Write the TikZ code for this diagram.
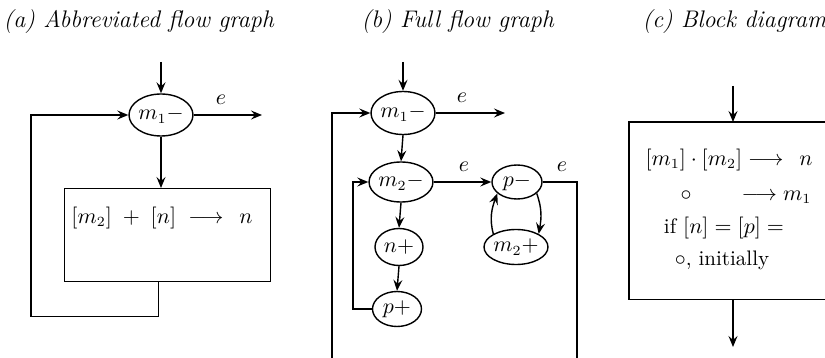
\documentclass[tikz,border=0pt]{standalone}
\usetikzlibrary{arrows.meta,shapes.geometric,calc}
\begin{document}
\begin{tikzpicture}[x=0.5pt,y=-0.5pt, line width=0.7pt,
  arr/.style={-{Stealth[length=5.5pt,width=4.5pt,inset=2pt]}},
  ell/.style={draw, ellipse, inner sep=0pt, font=\fontsize{10.5}{12}\selectfont},
  ttl/.style={anchor=west, font=\fontsize{12}{14}\selectfont\itshape, inner sep=0pt},
  lbl/.style={font=\fontsize{10.5}{12}\selectfont, inner sep=0pt},
  txt/.style={font=\fontsize{10.5}{12}\selectfont, inner sep=0pt}]
\useasboundingbox (0,0) rectangle (825,358);
% ---------- (a)
\node[ttl] (ta) at (3,22) {(a) Abbreviated flow graph};
\node[ell, minimum width=28pt, minimum height=21pt] (am1) at (161,115) {$m_1-$};
\coordinate (ain) at (161,62);
\coordinate (aout) at (262,115);
\draw[arr] (ain) -- (am1);
\draw[arr] (am1) -- (aout);
\node[lbl] (ae) at (221,100) {$e$};
\node[draw, minimum width=103pt, minimum height=46.5pt, inner sep=0pt, anchor=north west] (abox) at (64,188) {};
\node[txt] (atxt) at (162,218) {$[m_2]\;+\;[n]\;\longrightarrow\;\, n$};
\draw[arr] (am1) -- (am1 |- abox.north);
\draw[arr] ([xshift=-4.5pt]abox.south) -- ++(0,34) -| (31,115) -- (am1.west);
% ---------- (b)
\node[ttl] (tb) at (361,22) {(b) Full flow graph};
\node[ell, minimum width=27.5pt, minimum height=21.5pt] (bm1) at (403,113) {$m_1-$};
\node[ell, minimum width=28.5pt, minimum height=20pt] (bm2) at (401,182) {$m_2-$};
\node[ell, minimum width=24pt, minimum height=18.5pt] (bn) at (399,247) {$n+$};
\node[ell, minimum width=24.5pt, minimum height=17.5pt] (bp) at (397,309) {$p+$};
\node[ell, minimum width=25pt, minimum height=17pt] (bpm) at (517,182) {$p-$};
\node[ell, minimum width=28pt, minimum height=17.5pt] (bm2p) at (516,247) {$m_2+$};
\coordinate (bin) at (403,62);
\coordinate (bout) at (505,113);
\coordinate (bbl) at (332,358);
\coordinate (bbr) at (577,358);
\draw[arr] (bin) -- (bm1);
\draw[arr] (bm1) -- (bout);
\draw[arr] (bm1.south) -- (bm2.north);
\draw[arr] (bm2.south) -- (bn.north);
\draw[arr] (bn.south) -- (bp.north);
\draw[arr] (bm2) -- (bpm);
\draw (bpm) -| (bbr);
\draw[arr] (bbl) |- (bm1);
\draw[arr] (bp.west) -- ++(-19,0) |- (bm2.west);
\draw[arr] (bm2p.150) to[out=105,in=250] (bpm.210);
\draw[arr] (bpm.-30) to[out=-70,in=80] (bm2p.30);
\node[lbl] (be1) at (462,98) {$e$};
\node[lbl] (be2) at (464,167) {$e$};
\node[lbl] (be3) at (562,167) {$e$};
% ---------- (c)
\node[ttl] (tc) at (642,22) {(c) Block diagram};
\node[minimum width=98pt, minimum height=88pt, inner sep=0pt, anchor=north west] (cbox) at (629,122) {};
\draw (cbox.north east) -- (cbox.north west) -- (cbox.south west) -- (cbox.south east);
\coordinate (cin) at (733,86);
\coordinate (cout) at (733,347);
\draw[arr] (cin) -- (cin |- cbox.north);
\draw[arr] (cbox.south -| cin) -- (cout);
\node[txt] (c1) at (729,160) {$[m_1]\cdot[m_2]\longrightarrow\;\, n$};
\node[txt, anchor=west] (c2) at (680,197) {$\circ\hspace{22pt}\longrightarrow m_1$};
\node[txt] (c3) at (724,228) {if $[n]=[p]=$};
\node[txt] (c4) at (722,260) {$\circ$, initially};
\end{tikzpicture}
\end{document}
